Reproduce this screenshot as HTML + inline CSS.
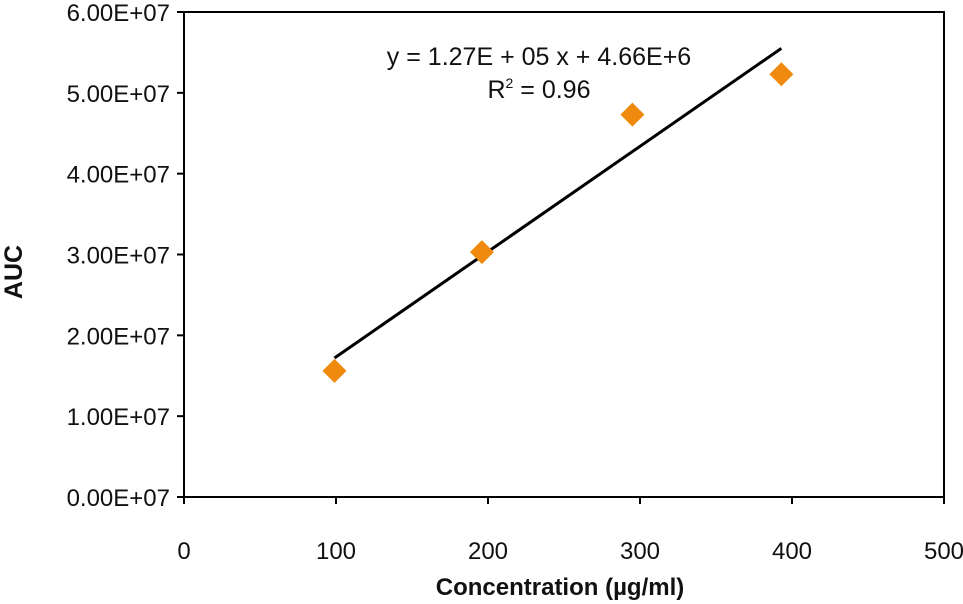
<!DOCTYPE html>
<html><head><meta charset="utf-8"><style>
html,body{margin:0;padding:0;background:#fff;}
svg{display:block;font-family:"Liberation Sans",sans-serif;}
</style></head><body>
<svg id="chart" width="963" height="604">
<rect x="184" y="12" width="760" height="485" fill="none" stroke="#000" stroke-width="2"/>
<g id="axes"></g>
<g id="marks"></g>
<text x="539" y="65" text-anchor="middle" font-size="25" fill="#111">y = 1.27E + 05 x + 4.66E+6</text>
<text x="539" y="98" text-anchor="middle" font-size="25" fill="#111">R<tspan dy="-10" font-size="14">2</tspan><tspan dy="10"> = 0.96</tspan></text>
<text x="22" y="272" text-anchor="middle" font-size="25" font-weight="bold" fill="#111" transform="rotate(-90 22 272)">AUC</text>
<text x="560" y="595" text-anchor="middle" font-size="24" font-weight="bold" fill="#111">Concentration (µg/ml)</text>
</svg>
<script>
const xTicks=[0,100,200,300,400,500];
const yTicks=[0,1e7,2e7,3e7,4e7,5e7,6e7];
const yTickLabels=["0.00E+07","1.00E+07","2.00E+07","3.00E+07","4.00E+07","5.00E+07","6.00E+07"];
const concentrations=[99,196,295,393];
const aucValues=[1.56e7,3.03e7,4.73e7,5.23e7];
const fitX=[99,393];
const fitY=[1.72e7,5.55e7];

const L=184,R=944,T=12,B=497;
const xs=v=>L+(v-0)/(500-0)*(R-L);
const ys=v=>B-(v-0)/(6e7-0)*(B-T);
const NS="http://www.w3.org/2000/svg";
function mk(tag,attrs,parent){const e=document.createElementNS(NS,tag);for(const k in attrs)e.setAttribute(k,attrs[k]);parent.appendChild(e);return e;}
const axes=document.getElementById('axes'),marks=document.getElementById('marks');
xTicks.forEach(v=>{
  const t=mk('line',{x1:xs(v),x2:xs(v),y1:B,y2:B+7,stroke:'#000','stroke-width':2},axes);
  
  
  const l=mk('text',{x:xs(v),y:559,'text-anchor':'middle','font-size':24,fill:'#111'},axes);
  l.textContent=String(v);
  
  
});
yTicks.forEach((v,i)=>{
  const t=mk('line',{x1:L-7,x2:L,y1:ys(v),y2:ys(v),stroke:'#000','stroke-width':2},axes);
  
  
  const l=mk('text',{x:170,y:ys(v)+9,'text-anchor':'end','font-size':24,fill:'#111'},axes);
  l.textContent=yTickLabels[i];
  
  
});
const fl=mk('line',{x1:xs(fitX[0]),y1:ys(fitY[0]),x2:xs(fitX[1]),y2:ys(fitY[1]),stroke:'#000','stroke-width':3},marks);


concentrations.forEach((c,i)=>{
  const x=xs(c),y=ys(aucValues[i]),s=12;
  const p=mk('polygon',{points:`${x},${y-s} ${x+s},${y} ${x},${y+s} ${x-s},${y}`,fill:'#F08A0E'},marks);
  
  
});
</script>
</body></html>
